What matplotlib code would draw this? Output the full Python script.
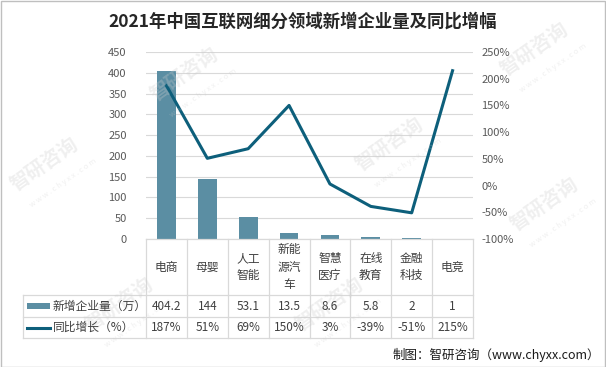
import matplotlib
matplotlib.use("Agg")
import matplotlib.pyplot as plt
from matplotlib.lines import Line2D
from matplotlib.patches import Rectangle

plt.rcParams['font.family'] = ['Noto Sans CJK SC', 'DejaVu Sans']

title = "2021年中国互联网细分领域新增企业量及同比增幅"
categories = ["电商", "母婴", "人工\n智能", "新能\n源汽\n车", "智慧\n医疗", "在线\n教育", "金融\n科技", "电竞"]
new_firms = [404.2, 144, 53.1, 13.5, 8.6, 5.8, 2, 1]
growth = [187, 51, 69, 150, 3, -39, -51, 215]
firm_labels = ["404.2", "144", "53.1", "13.5", "8.6", "5.8", "2", "1"]
growth_labels = ["187%", "51%", "69%", "150%", "3%", "-39%", "-51%", "215%"]
series_names = ["新增企业量（万）", "同比增长（%）"]
left_ticks = [0, 50, 100, 150, 200, 250, 300, 350, 400, 450]
right_ticks = [-100, -50, 0, 50, 100, 150, 200, 250]
source = "制图：智研咨询（www.chyxx.com）"

W, H = 606, 367
BAR = "#5b8ea3"
LINE = "#0d5f7b"
GRID = "#d9d9d9"
TXT = "#404040"
TICK = "#595959"

fig = plt.figure(figsize=(W / 100, H / 100), dpi=100)
fig.patch.set_facecolor("white")

def fx(x):
    return x / W

def fy(y):
    return 1 - y / H

# border
fig.add_artist(Rectangle((0.5 / W, 0.5 / H), 1 - 1.5 / W, 1 - 1.5 / H, transform=fig.transFigure,
                         fill=False, edgecolor="#bfbfbf", lw=1))

# watermarks (faint)
wm = [(185, 75), (390, 145), (535, 50), (45, 165), (120, 305), (330, 305), (545, 205)]
for (x, y) in wm:
    fig.text(fx(x), fy(y), "智研咨询", fontsize=14, color="#cccccc", alpha=0.3,
             rotation=35, ha="center", va="center", fontweight="bold")
    fig.text(fx(x + 18), fy(y + 18), "w w w . c h y x x . c o m", fontsize=5.5, color="#cccccc",
             alpha=0.3, rotation=35, ha="center", va="center")

L, R, T, B = 146, 473, 52, 239
ax = fig.add_axes([fx(L), fy(B), fx(R) - fx(L), (B - T) / H])
n = len(categories)
xs = list(range(n))
ax.bar(xs, new_firms, width=0.46, color=BAR, zorder=3)
ax.set_xlim(-0.5, n - 0.5)
ax.set_ylim(0, 450)
ax.set_yticks(left_ticks)
ax.set_yticklabels([str(t) for t in left_ticks], color=TICK, fontsize=8)
ax.yaxis.grid(True, color=GRID, lw=0.8, zorder=0)
ax.set_xticks([])
ax.tick_params(axis="y", length=0, pad=14)
for s in ax.spines.values():
    s.set_visible(False)
ax.set_facecolor("none")

ax2 = ax.twinx()
ax2.plot(xs, growth, color=LINE, lw=2.2, zorder=4)
ax2.set_ylim(-100, 250)
ax2.set_yticks(right_ticks)
ax2.set_yticklabels([f"{t}%" for t in right_ticks], color=TICK, fontsize=8)
ax2.tick_params(axis="y", length=0, pad=6)
for s in ax2.spines.values():
    s.set_visible(False)

# table
col_w = (R - L) / n
rows_y = [B, 295, 317, 338]
TL = 23
def hline(x0, x1, y):
    fig.add_artist(Line2D([fx(x0), fx(x1)], [fy(y), fy(y)], color=GRID, lw=0.9, transform=fig.transFigure))
def vline(x, y0, y1):
    fig.add_artist(Line2D([fx(x), fx(x)], [fy(y0), fy(y1)], color=GRID, lw=0.9, transform=fig.transFigure))

hline(L, R, B)
for y in rows_y[1:]:
    hline(TL, R, y)
for i in range(n + 1):
    vline(L + i * col_w, B, rows_y[-1])
vline(TL, rows_y[1], rows_y[-1])

for i, c in enumerate(categories):
    cx = L + (i + 0.5) * col_w
    fig.text(fx(cx), fy((B + rows_y[1]) / 2), c, ha="center", va="center", fontsize=8.5,
             color=TXT, linespacing=1.45)
    fig.text(fx(cx), fy((rows_y[1] + rows_y[2]) / 2), firm_labels[i], ha="center", va="center",
             fontsize=8.5, color=TXT)
    fig.text(fx(cx), fy((rows_y[2] + rows_y[3]) / 2), growth_labels[i], ha="center", va="center",
             fontsize=8.5, color=TXT)

# legend keys in table
y1 = (rows_y[1] + rows_y[2]) / 2
y2 = (rows_y[2] + rows_y[3]) / 2
fig.add_artist(Rectangle((fx(27), fy(y1 + 3)), (50 - 27) / W, 6 / H, transform=fig.transFigure,
                         facecolor=BAR, edgecolor="none"))
fig.add_artist(Line2D([fx(27), fx(50)], [fy(y2), fy(y2)], color=LINE, lw=2.2, transform=fig.transFigure))
fig.text(fx(53), fy(y1), series_names[0], ha="left", va="center", fontsize=8.5, color=TXT)
fig.text(fx(53), fy(y2), series_names[1], ha="left", va="center", fontsize=8.5, color=TXT)

fig.text(0.5, fy(22), title, ha="center", va="center", fontsize=12.5, fontweight="bold", color="#262626")
fig.text(fx(600), fy(355), source, ha="right", va="center", fontsize=9, color="#1a1a1a")

fig.savefig("out.png", dpi=100)
